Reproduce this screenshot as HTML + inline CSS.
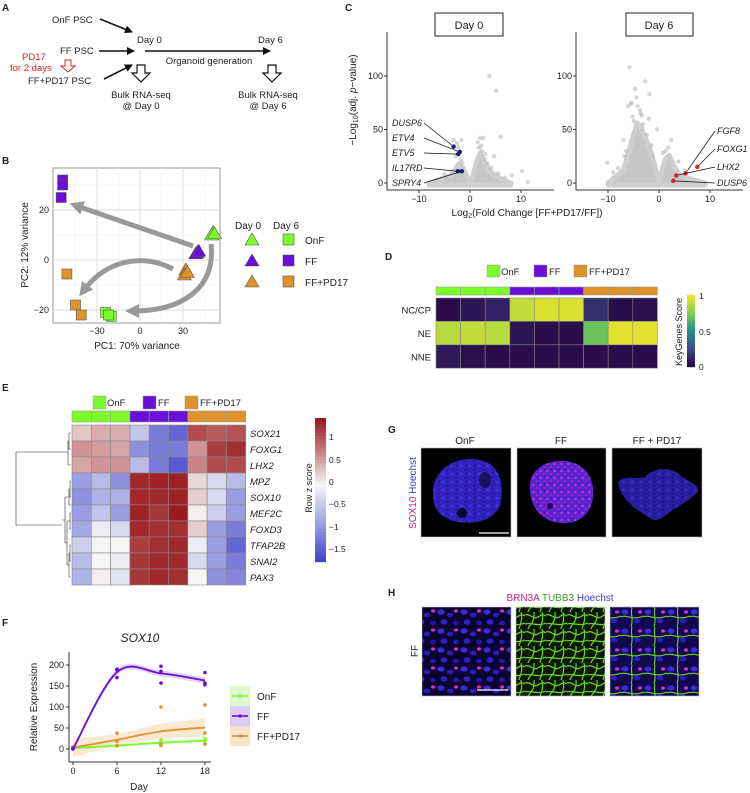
<!DOCTYPE html>
<html><head><meta charset="utf-8">
<style>
html,body{margin:0;padding:0;background:#fff}
svg{display:block;font-family:"Liberation Sans",Arial,sans-serif}
text{fill:#222}
.it{font-style:italic}
</style></head>
<body>
<svg id="fig" width="750" height="793" viewBox="0 0 750 793" xmlns="http://www.w3.org/2000/svg">
<defs>
<marker id="ah" markerWidth="8" markerHeight="8" refX="7" refY="4" orient="auto" markerUnits="userSpaceOnUse"><path d="M0,0 L8,4 L0,8 Z" fill="#111"/></marker>
<marker id="gah" markerWidth="14" markerHeight="14" refX="6" refY="7" orient="auto" markerUnits="userSpaceOnUse"><path d="M0,0 L14,7 L0,14 Z" fill="#999"/></marker>
<pattern id="nuc" width="9" height="8" patternUnits="userSpaceOnUse"><rect width="9" height="8" fill="#3222c0"/><circle cx="2" cy="2" r="1.3" fill="#4636e0"/><circle cx="6.5" cy="5.5" r="1.1" fill="#1e1490"/><circle cx="7" cy="1.5" r="0.7" fill="#160c70"/></pattern>
<pattern id="sox" width="7" height="7" patternUnits="userSpaceOnUse"><rect width="7" height="7" fill="#5a25d0"/><circle cx="1.5" cy="2" r="1.2" fill="#d02ad8"/><circle cx="5" cy="5" r="1" fill="#b020c0"/><circle cx="5.5" cy="1" r="0.6" fill="#2a10a0"/></pattern>
<pattern id="hb" width="23" height="19" patternUnits="userSpaceOnUse"><rect width="23" height="19" fill="#0c0430"/><ellipse cx="4" cy="4" rx="3.5" ry="2.6" fill="#3a2ae0"/><ellipse cx="13" cy="7" rx="3.2" ry="2.4" fill="#2a1cc0"/><ellipse cx="7" cy="14" rx="3.4" ry="2.6" fill="#3020d0"/><ellipse cx="19" cy="15" rx="3" ry="2.2" fill="#2418b0"/><ellipse cx="19" cy="3" rx="2" ry="1.6" fill="#e030c8"/></pattern>
<pattern id="tu" width="21" height="17" patternUnits="userSpaceOnUse"><rect width="21" height="17" fill="#0a1805"/><path d="M0,3 C5,1 8,8 13,5 S18,2 21,4 M3,17 C4,12 10,12 9,0 M0,12 C6,10 12,15 21,11 M15,17 C16,12 19,9 17,0" stroke="#6bd62a" stroke-width="1.2" fill="none"/></pattern>
<pattern id="mg" width="23" height="19" patternUnits="userSpaceOnUse"><rect width="23" height="19" fill="#120850"/><ellipse cx="4" cy="4" rx="3.4" ry="2.5" fill="#3a2ae0"/><ellipse cx="16" cy="13" rx="3.2" ry="2.4" fill="#2a1cc0"/><path d="M0,9 C6,6 10,13 23,8 M11,0 C9,6 13,11 10,19" stroke="#6bd62a" stroke-width="1.1" fill="none"/><ellipse cx="19" cy="4" rx="2" ry="1.6" fill="#e030c8"/></pattern>
</defs>

<!-- Panel A -->
<g font-size="9.5">
<text x="2" y="11" font-weight="bold" font-size="10">A</text>
<text x="52" y="23">OnF PSC</text>
<text x="60" y="54">FF PSC</text>
<text x="28" y="84">FF+PD17 PSC</text>
<text x="22" y="60" style="fill:#e02020">PD17</text>
<text x="10" y="71" style="fill:#e02020">for 2 days</text>
<path d="M65,60 h6 v6 h4 l-7,6 l-7,-6 h4 z" fill="#fff" stroke="#e02020" stroke-width="1"/>
<line x1="100" y1="19" x2="132" y2="32" stroke="#111" stroke-width="1.6" marker-end="url(#ah)"/>
<line x1="99" y1="51" x2="134" y2="51" stroke="#111" stroke-width="1.6" marker-end="url(#ah)"/>
<line x1="104" y1="79" x2="132" y2="65" stroke="#111" stroke-width="1.6" marker-end="url(#ah)"/>
<text x="137" y="43">Day 0</text>
<text x="258" y="43">Day 6</text>
<line x1="145" y1="51" x2="270" y2="51" stroke="#111" stroke-width="1.6" marker-end="url(#ah)"/>
<text x="209" y="64" text-anchor="middle">Organoid generation</text>
<path d="M137,65 h8 v8 h5 l-9,9 l-9,-9 h5 z" fill="#fff" stroke="#111" stroke-width="1.2"/>
<path d="M268,65 h8 v8 h5 l-9,9 l-9,-9 h5 z" fill="#fff" stroke="#111" stroke-width="1.2"/>
<text x="141" y="98" text-anchor="middle">Bulk RNA-seq</text>
<text x="141" y="109" text-anchor="middle">@ Day 0</text>
<text x="268" y="98" text-anchor="middle">Bulk RNA-seq</text>
<text x="268" y="109" text-anchor="middle">@ Day 6</text>
</g>

<!-- Panel B -->
<g id="pb" font-size="9.5">
<text x="2" y="164" font-weight="bold" font-size="10">B</text>
<rect x="53" y="168" width="167" height="155" fill="#fff" stroke="#999"/>
<g id="pbgrid"></g>
<g id="pbarrows">
<path d="M193,246 L77,206" stroke="#999" stroke-width="5" fill="none" marker-end="url(#gah)"/>
<path d="M173,269 C140,252 105,262 84,290" stroke="#999" stroke-width="5" fill="none" marker-end="url(#gah)"/>
<path d="M211,244 C216,290 180,311 133,311" stroke="#999" stroke-width="5" fill="none" marker-end="url(#gah)"/>
</g>
<g id="pbpts"></g>
<g id="pbticks"></g>
<text x="137" y="349" text-anchor="middle" font-size="10">PC1: 70% variance</text>
<text transform="translate(28,245) rotate(-90)" text-anchor="middle" font-size="10">PC2: 12% variance</text>
<g font-size="10">
<text x="235" y="229">Day 0</text>
<text x="273" y="229">Day 6</text>
<polygon points="252,233 259,245 245,245" fill="#7cfc2a" stroke="#555" stroke-width="0.6"/>
<polygon points="252,254 259,266 245,266" fill="#6a0fd6" stroke="#555" stroke-width="0.6"/>
<polygon points="252,275 259,287 245,287" fill="#e0922a" stroke="#555" stroke-width="0.6"/>
<rect x="283" y="234" width="11" height="11" fill="#7cfc2a" stroke="#555" stroke-width="0.6"/>
<rect x="283" y="255" width="11" height="11" fill="#6a0fd6" stroke="#555" stroke-width="0.6"/>
<rect x="283" y="276" width="11" height="11" fill="#e0922a" stroke="#555" stroke-width="0.6"/>
<text x="305" y="244">OnF</text>
<text x="305" y="265">FF</text>
<text x="305" y="286">FF+PD17</text>
</g>
</g>

<!-- Panel C -->
<g id="pc" font-size="9">
<text x="345" y="11" font-weight="bold" font-size="10">C</text>
<rect x="435" y="13" width="68" height="23" fill="#fff" stroke="#222"/>
<text x="469" y="29" text-anchor="middle" font-size="11">Day 0</text>
<rect x="626" y="13" width="67" height="23" fill="#fff" stroke="#222"/>
<text x="659" y="29" text-anchor="middle" font-size="11">Day 6</text>
<g id="pcv"></g>
<text x="527" y="216" text-anchor="middle" font-size="10">Log<tspan font-size="7" dy="2">2</tspan><tspan dy="-2">(Fold Change [FF+PD17/FF])</tspan></text>
<text transform="translate(356,100) rotate(-90)" text-anchor="middle" font-size="10">−Log<tspan font-size="7" dy="2">10</tspan><tspan dy="-2">(adj. </tspan><tspan font-style="italic">p</tspan>−value)</text>
</g>

<!-- Panel D -->
<g id="pd" font-size="9.5">
<text x="385" y="260" font-weight="bold" font-size="10">D</text>
<rect x="487" y="265" width="13" height="12" fill="#7cfc2a" stroke="#999" stroke-width="0.5"/>
<text x="501" y="275">OnF</text>
<rect x="534" y="265" width="13" height="12" fill="#6a0fd6" stroke="#999" stroke-width="0.5"/>
<text x="549" y="275">FF</text>
<rect x="574" y="265" width="13" height="12" fill="#e0922a" stroke="#999" stroke-width="0.5"/>
<text x="589" y="275">FF+PD17</text>
<g id="pdh"></g>
<text transform="translate(682,332) rotate(-90)" text-anchor="middle" font-size="9">KeyGenes Score</text>
<text x="699" y="299" font-size="8.5">1</text>
<text x="699" y="335" font-size="8.5">0.5</text>
<text x="699" y="370" font-size="8.5">0</text>
</g>

<!-- Panel E -->
<g id="pe" font-size="9.5">
<text x="2" y="391" font-weight="bold" font-size="10">E</text>
<rect x="93" y="396" width="13" height="13" fill="#7cfc2a" stroke="#999" stroke-width="0.5"/>
<text x="107" y="406">OnF</text>
<rect x="143" y="396" width="13" height="13" fill="#6a0fd6" stroke="#999" stroke-width="0.5"/>
<text x="158" y="406">FF</text>
<rect x="185" y="396" width="13" height="13" fill="#e0922a" stroke="#999" stroke-width="0.5"/>
<text x="200" y="406">FF+PD17</text>
<g id="peh"></g>
<g stroke="#333" stroke-width="0.6" fill="none">
<path d="M71,433 H69 V449 H71 M69,441 H68 V465 H71 M68,452 H16 V525 H62 M71,481 H70 V497 H71 M70,489 H69 V505 H71 M71,513 H70 V529 H71 M71,545 H70 V561 H71 M70,553 H69 V577 H71 M70,521 H67 V565 H69 M69,497 H65 V543 H67 M65,520 H62"/>
</g>
<text transform="translate(312,488) rotate(-90)" text-anchor="middle" font-size="9">Row z score</text>
<g font-size="8.5">
<text x="329" y="440">1</text>
<text x="329" y="463">0.5</text>
<text x="329" y="485">0</text>
<text x="329" y="507">−0.5</text>
<text x="329" y="530">−1</text>
<text x="329" y="552">−1.5</text>
</g>
</g>

<!-- Panel F -->
<g id="pf" font-size="9.5">
<text x="2" y="626" font-weight="bold" font-size="10">F</text>
<text x="140" y="642" text-anchor="middle" font-size="12" class="it">SOX10</text>
<g id="pfp"></g>
<text x="139" y="790" text-anchor="middle" font-size="10">Day</text>
<text transform="translate(37,707) rotate(-90)" text-anchor="middle" font-size="10">Relative Expression</text>
<g>
<rect x="230" y="686" width="20" height="20" fill="#dff8cf"/>
<line x1="232" y1="696" x2="248" y2="696" stroke="#7cfc2a" stroke-width="1.6"/>
<circle cx="240" cy="696" r="1.6" fill="#7cfc2a"/>
<rect x="230" y="706" width="20" height="20" fill="#dccdf4"/>
<line x1="232" y1="716" x2="248" y2="716" stroke="#6a0fd6" stroke-width="1.6"/>
<circle cx="240" cy="716" r="1.6" fill="#6a0fd6"/>
<rect x="230" y="726" width="20" height="20" fill="#f7e3cc"/>
<line x1="232" y1="736" x2="248" y2="736" stroke="#e0922a" stroke-width="1.6"/>
<circle cx="240" cy="736" r="1.6" fill="#e0922a"/>
<text x="257" y="700" font-size="10">OnF</text>
<text x="257" y="720" font-size="10">FF</text>
<text x="257" y="740" font-size="10">FF+PD17</text>
</g>
</g>

<!-- Panel G -->
<g font-size="10">
<text x="388" y="433" font-weight="bold" font-size="10">G</text>
<text x="465" y="444" text-anchor="middle">OnF</text>
<text x="561" y="444" text-anchor="middle">FF</text>
<text x="657" y="444" text-anchor="middle">FF + PD17</text>
<text transform="translate(416,493) rotate(-90)" text-anchor="middle"><tspan style="fill:#d0207a">SOX10</tspan> <tspan style="fill:#3a3ad0">Hoechst</tspan></text>
<g>
<rect x="421" y="448" width="90" height="89" fill="#000" stroke="#bbb" stroke-width="0.6"/>
<path d="M433,494 C432,470 455,455 480,460 C500,464 505,485 500,505 C494,522 470,526 450,520 C437,515 433,505 433,494 Z" fill="url(#nuc)"/>
<circle cx="462" cy="513" r="5" fill="#0a0530"/><ellipse cx="485" cy="480" rx="6" ry="8" fill="#1a1060"/>
<line x1="479" y1="533" x2="509" y2="533" stroke="#fff" stroke-width="1.3"/>
</g>
<g>
<rect x="517" y="448" width="89" height="89" fill="#000" stroke="#bbb" stroke-width="0.6"/>
<path d="M530,490 C528,470 545,460 565,461 C585,463 595,478 593,497 C591,515 578,524 562,523 C542,522 531,508 530,490 Z" fill="url(#sox)"/>
<circle cx="550" cy="506" r="3" fill="#200850"/>
</g>
<g>
<rect x="612" y="448" width="90" height="89" fill="#000" stroke="#bbb" stroke-width="0.6"/>
<path d="M618,482 C625,474 638,480 645,477 C655,468 668,465 680,475 C690,483 700,485 698,492 C690,500 680,505 670,512 C660,520 655,522 650,518 C640,512 620,500 618,482 Z" fill="url(#nuc)" opacity="0.85"/>
</g>
</g>

<!-- Panel H -->
<g font-size="10">
<text x="388" y="596" font-weight="bold" font-size="10">H</text>
<text x="560" y="601" text-anchor="middle"><tspan style="fill:#d0207a">BRN3A</tspan> <tspan style="fill:#3a9a30">TUBB3</tspan> <tspan style="fill:#3a3ad0">Hoechst</tspan></text>
<text transform="translate(418,651) rotate(-90)" text-anchor="middle">FF</text>
<rect x="422" y="607" width="89" height="89" fill="url(#hb)" stroke="#bbb" stroke-width="0.6"/>
<line x1="477" y1="690" x2="508" y2="690" stroke="#fff" stroke-width="1.3"/>
<rect x="516" y="607" width="89" height="89" fill="url(#tu)" stroke="#bbb" stroke-width="0.6"/>
<rect x="610" y="607" width="89" height="89" fill="url(#mg)" stroke="#bbb" stroke-width="0.6"/>
</g>
</svg>

<script>
// ---------- data ----------
const pcaPC1 = [-54,-54,-55,-51,-45,-41,-24,-20,-22, 51,50,52, 40,39,41, 32,31,33];
const pcaPC2 = [32,30,25,-5.6,-18,-22,-21,-22.5,-22, 11,10,10.5, 3,2.5,3.5, -4,-6,-5];
const pcaGroup = ['FF','FF','FF','FF+PD17','FF+PD17','FF+PD17','OnF','OnF','OnF','OnF','OnF','OnF','FF','FF','FF','FF+PD17','FF+PD17','FF+PD17'];
const pcaDay = [6,6,6,6,6,6,6,6,6,0,0,0,0,0,0,0,0,0];

const d0GeneNames = ['DUSP6','ETV4','ETV5','IL17RD','SPRY4'];
const d0GeneFC = [-3.2,-2.0,-2.3,-2.4,-1.6];
const d0GenePadj = [34,29,27,11,11];
const d6GeneNames = ['FGF8','FOXG1','LHX2','DUSP6'];
const d6GeneFC = [5.2,7.5,3.4,2.8];
const d6GenePadj = [9,15,7,2];
const d0OutFC = [3.8,5.1,-2.5,-2.3,-1.7,2,2.6,6,1.5,-3.2,-2.4,4.7,8.2,10.2,11.3,3,2.4,-1.8,-6.5,-4.5,1.8,2.2,2.9,-2.8,-1.5,3.4,4.2,5.5,-5,6.8];
const d0OutP = [100,86,37,33,40,42,42,43,38,40,28,25,7,11,1,27,30,22,3,4,33,35,22,25,19,18,14,9,8,5];
const d6OutFC = [-5.8,-4.7,-4.4,-5.4,-4.2,-2.7,-1.9,-5.5,-6,-3.7,-3.6,-3.4,-5.2,-10.2,-7,-9,-2,1.3,2.4,-1.2,3.8,-0.4,-4.9,-3.1,-2.4,-6.5,-1.5,0.8,1.8,5,-8,-6.8];
const d6OutP = [108,88,80,74,72,95,83,75,72,68,65,63,62,19,40,10,60,30,40,25,20,50,58,55,45,30,35,28,33,12,14,25];
const d0EnvFC = [-8,-6,-4,-3,-2.2,-1.4,-0.6,0,0.6,1.3,2,2.8,4,6,8];
const d0EnvP = [0,3,6,12,18,14,6,0,7,20,28,20,10,4,0];
const d6EnvFC = [-10,-9,-7,-6,-5,-4.3,-3.5,-2.5,-1.5,-0.6,0,0.5,1.2,2,3,4,6,9];
const d6EnvP = [0,4,12,28,45,56,52,40,28,12,0,10,22,26,15,8,4,0];

const dRows = ['NC/CP','NE','NNE'];
const dVals = [[0.02,0.05,0.1,0.9,0.95,0.95,0.15,0.02,0.03],[0.88,0.9,0.88,0.05,0.02,0.02,0.7,0.97,0.97],[0.07,0.03,0.02,0.02,0.02,0.02,0.02,0.02,0.02]];
const sampleGroups = ['OnF','OnF','OnF','FF','FF','FF','FF+PD17','FF+PD17','FF+PD17'];

const eGenes = ['SOX21','FOXG1','LHX2','MPZ','SOX10','MEF2C','FOXD3','TFAP2B','SNAI2','PAX3'];
const eVals = [
[0.3,0.45,0.45,-0.5,-1.2,-1.4,1.1,1.0,1.05],
[0.6,0.55,0.5,-1.0,-1.2,-1.2,0.6,1.2,1.3],
[0.5,0.6,0.6,-0.6,-1.2,-1.5,0.7,1.1,1.1],
[-0.9,-0.6,-1.0,1.35,1.4,1.4,0.2,-0.3,-0.6],
[-1.0,-0.7,-0.7,1.35,1.35,1.4,0.25,-0.3,-0.9],
[-0.9,-0.5,-0.9,1.4,1.25,1.45,0.05,-0.4,-0.9],
[-0.8,-0.1,-0.3,1.35,1.3,1.3,0.25,-0.9,-1.2],
[-0.4,0,0,1.2,1.3,1.35,-0.1,-0.9,-1.4],
[-0.6,0,-0.1,1.25,1.35,1.35,-0.3,-0.9,-1.2],
[-0.7,0.05,-0.2,1.25,1.35,1.3,0,-1.0,-1.1]];

const fDays = [0,6,12,18];
const fOnFPts = [[2,3],[8,8,7],[22,15,8],[25,20,12]];
const fFFPts = [[0,2],[190,188,170],[197,185,157],[182,157,153]];
const fPDPts = [[5,4],[38,18,8],[100,12,10],[105,38,12]];
const fOnFFit = [2,8,15,20];
const fFFFit = [0,183,180,163];
const fPDFit = [3,22,42,51];
const fOnFSe = [3,3,4,5];
const fFFSe = [6,7,7,8];
const fPDSe = [22,14,18,22];
const fYTicks = [0,50,100,150,200];

// ---------- helpers ----------
const NS='http://www.w3.org/2000/svg';
function mk(tag, attrs, parent){const e=document.createElementNS(NS,tag);for(const k in attrs)e.setAttribute(k,attrs[k]);parent.appendChild(e);return e;}
const grpCol={'OnF':'#7cfc2a','FF':'#6a0fd6','FF+PD17':'#e0922a'};
function lerpHex(a,b,t){const pa=[1,3,5].map(i=>parseInt(a.substr(i,2),16)),pb=[1,3,5].map(i=>parseInt(b.substr(i,2),16));return 'rgb('+pa.map((v,i)=>Math.round(v+(pb[i]-v)*t)).join(',')+')';}
function scaleColor(stops,cols,v){if(v<=stops[0])return cols[0];for(let i=1;i<stops.length;i++){if(v<=stops[i])return lerpHex(cols[i-1],cols[i],(v-stops[i-1])/(stops[i]-stops[i-1]));}return cols[cols.length-1];}
const virS=[0,0.25,0.5,0.75,1], virC=['#2a0845','#3b4a8a','#21918c','#7dcf4f','#f0e52a'];
const divS=[-1.7,-0.85,0,0.7,1.45], divC=['#4444cc','#9ea3e2','#f6f6f6','#c98586','#9a1a1e'];

// ---------- Panel B ----------
const bx=v=>140+1.433*v, by=v=>260-2.5*v;
const gB=document.getElementById('pbgrid');
[-45,-15,15,45].forEach(v=>{const l=mk('line',{x1:bx(v),x2:bx(v),y1:168,y2:323,stroke:'#eee','stroke-width':0.6},gB);

});
[-30,0,30].forEach(v=>{const l=mk('line',{x1:bx(v),x2:bx(v),y1:168,y2:323,stroke:'#ddd','stroke-width':1},gB);

});
[-10,10,30].forEach(v=>{const l=mk('line',{x1:53,x2:220,y1:by(v),y2:by(v),stroke:'#eee','stroke-width':0.6},gB);

});
[-20,0,20].forEach(v=>{const l=mk('line',{x1:53,x2:220,y1:by(v),y2:by(v),stroke:'#ddd','stroke-width':1},gB);

});
const tB=document.getElementById('pbticks');
[-30,0,30].forEach(v=>{const t=mk('text',{x:bx(v),y:334,'text-anchor':'middle','font-size':9},tB);t.textContent=v<0?'−'+(-v):v;

});
[-20,0,20].forEach(v=>{const t=mk('text',{x:49,y:by(v)+3,'text-anchor':'end','font-size':9},tB);t.textContent=v<0?'−'+(-v):v;

});
const pB=document.getElementById('pbpts');
pcaPC1.forEach((v,i)=>{const x=bx(v),y=by(pcaPC2[i]);let e;
if(pcaDay[i]===6){e=mk('rect',{x:x-5,y:y-5,width:10,height:10,fill:grpCol[pcaGroup[i]],stroke:'#555','stroke-width':0.6},pB);}
else{e=mk('polygon',{points:`${x},${y-7} ${x+7},${y+5} ${x-7},${y+5}`,fill:grpCol[pcaGroup[i]],stroke:'#555','stroke-width':0.6},pB);}

});

// ---------- Panel C ----------
const gC=document.getElementById('pcv');
function volcano(ox,envFC,envP,outFC,outP,names,fc,pp,labCol,labX,labY,name){
 const x0=ox, x1=ox+167, yb=190;
 const sx=v=>ox+83+5.1*v, sy=v=>183-1.07*v;
 const g=mk('g',{},gC);
 
 
 let d='M'+sx(envFC[0])+','+sy(0);
 envFC.forEach((v,i)=>{d+=' L'+sx(v)+','+sy(envP[i]);});
 d+=' L'+sx(envFC[envFC.length-1])+','+(sy(0)+2)+' L'+sx(envFC[0])+','+(sy(0)+2)+' Z';
 const cl=mk('path',{d:d,fill:'#c6c6c6',stroke:'#cfcfcf','stroke-width':5,'stroke-linejoin':'round'},g);
 
 
 outFC.forEach((v,i)=>{const c=mk('circle',{cx:sx(v),cy:sy(outP[i]),r:2.2,fill:'#bbb',opacity:0.6},g);
 
 });
 const ax=mk('path',{d:`M${x0},32 V${yb} H${x1}`,fill:'none',stroke:'#333','stroke-width':1},g);
 
 
 [-10,0,10].forEach(v=>{const t=mk('line',{x1:sx(v),x2:sx(v),y1:yb,y2:yb+3,stroke:'#333'},g);
 
 
 const tx=mk('text',{x:sx(v),y:yb+12,'text-anchor':'middle','font-size':9},g);tx.textContent=v<0?'−'+(-v):v;
 
 });
 [0,50,100].forEach(v=>{const t=mk('line',{x1:x0-3,x2:x0,y1:sy(v),y2:sy(v),stroke:'#333'},g);
 
 
 const tx=mk('text',{x:x0-4,y:sy(v)+3,'text-anchor':'end','font-size':9},g);tx.textContent=v;
 
 });
 names.forEach((n,i)=>{const px=sx(fc[i]),py=sy(pp[i]);
 const ln=mk('line',{x1:labX[i]+(name==='volcano-day0'?32:-2),y1:labY[i]-3,x2:px,y2:py,stroke:'#111','stroke-width':0.7},g);
 
 
 const c=mk('circle',{cx:px,cy:py,r:2.2,fill:labCol},g);
 
 
 const t=mk('text',{x:labX[i],y:labY[i],'font-size':9,'font-style':'italic'},g);t.textContent=n;
 
 });
}
volcano(387,d0EnvFC,d0EnvP,d0OutFC,d0OutP,d0GeneNames,d0GeneFC,d0GenePadj,'#1a1a7a',[392,392,392,392,392],[126,141,156,171,186],'volcano-day0');
volcano(576,d6EnvFC,d6EnvP,d6OutFC,d6OutP,d6GeneNames,d6GeneFC,d6GenePadj,'#dd2020',[717,717,717,717],[134,152,170,186],'volcano-day6');

// ---------- Panel D ----------
const gD=document.getElementById('pdh');
const dX0=436,dCW=24.6,dY0=298,dRH=23.4;
sampleGroups.forEach((g,j)=>{const r=mk('rect',{x:dX0+j*dCW,y:287,width:dCW,height:8,fill:grpCol[g],stroke:'#999','stroke-width':0.6},gD);

});
dVals.forEach((row,i)=>{row.forEach((v,j)=>{const r=mk('rect',{x:dX0+j*dCW,y:dY0+i*dRH,width:dCW,height:dRH,fill:scaleColor(virS,virC,v),stroke:'#888','stroke-width':0.6},gD);

});
const t=mk('text',{x:431,y:dY0+i*dRH+dRH/2+4,'text-anchor':'end','font-size':9.5},gD);t.textContent=dRows[i];

});
for(let k=0;k<36;k++){const r=mk('rect',{x:687,y:295+k*2,width:8,height:2.2,fill:scaleColor(virS,virC,1-k/35)},gD);

}

// ---------- Panel E ----------
const gE=document.getElementById('peh');
const eX0=72,eCW=19.3,eY0=425,eRH=16;
sampleGroups.forEach((g,j)=>{const r=mk('rect',{x:eX0+j*eCW,y:411,width:eCW,height:11,fill:grpCol[g],stroke:'#999','stroke-width':0.6},gE);

});
eVals.forEach((row,i)=>{row.forEach((v,j)=>{const r=mk('rect',{x:eX0+j*eCW,y:eY0+i*eRH,width:eCW,height:eRH,fill:scaleColor(divS,divC,v),stroke:'#888','stroke-width':0.6},gE);

});
const t=mk('text',{x:250,y:eY0+i*eRH+12,'font-size':9.5,'font-style':'italic'},gE);t.textContent=eGenes[i];

});
for(let k=0;k<48;k++){const r=mk('rect',{x:315,y:418+k*3,width:11,height:3.2,fill:scaleColor(divS,divC,1.45-3.15*k/47)},gE);

}

// ---------- Panel F ----------
const gF=document.getElementById('pfp');
const fx=d=>73+7.33*d, fy=v=>749-0.42*v;
function smooth(xs,ys){let d='M'+xs[0]+','+ys[0];for(let i=0;i<xs.length-1;i++){const x0=xs[Math.max(i-1,0)],y0=ys[Math.max(i-1,0)],x3=xs[Math.min(i+2,xs.length-1)],y3=ys[Math.min(i+2,xs.length-1)];
const c1x=xs[i]+(xs[i+1]-x0)/6,c1y=ys[i]+(ys[i+1]-y0)/6,c2x=xs[i+1]-(x3-xs[i])/6,c2y=ys[i+1]-(y3-ys[i])/6;d+=` C${c1x},${c1y} ${c2x},${c2y} ${xs[i+1]},${ys[i+1]}`;}return d;}
const series=[[fOnFFit,fOnFSe,fOnFPts,'#7cfc2a','rgba(124,252,42,0.18)','onf'],[fPDFit,fPDSe,fPDPts,'#e0922a','rgba(224,146,42,0.2)','ffpd17'],[fFFFit,fFFSe,fFFPts,'#6a0fd6','rgba(106,15,214,0.18)','ff']];
series.forEach(s=>{const xs=fDays.map(fx);
const up=smooth(xs,s[0].map((v,i)=>fy(v+s[1][i])));
const lo=smooth(xs.slice().reverse(),s[0].map((v,i)=>fy(v-s[1][i])).reverse());
const rb=mk('path',{d:up+' L'+lo.slice(1)+' Z',fill:s[4],stroke:'none'},gF);

});
series.forEach(s=>{const xs=fDays.map(fx);
const ln=mk('path',{d:smooth(xs,s[0].map(fy)),fill:'none',stroke:s[3],'stroke-width':1.8},gF);


s[2].forEach((arr,i)=>arr.forEach(v=>{const c=mk('circle',{cx:fx(fDays[i]),cy:fy(v),r:1.8,fill:s[3]},gF);

}));});
const fax=mk('path',{d:'M69,652 V762 H211',fill:'none',stroke:'#333','stroke-width':1},gF);


fDays.forEach(d=>{const t=mk('text',{x:fx(d),y:774,'text-anchor':'middle','font-size':9},gF);t.textContent=d;


const m=mk('line',{x1:fx(d),x2:fx(d),y1:762,y2:765,stroke:'#333'},gF);

});
fYTicks.forEach(v=>{const t=mk('text',{x:64,y:fy(v)+3,'text-anchor':'end','font-size':9},gF);t.textContent=v;


const m=mk('line',{x1:66,x2:69,y1:fy(v),y2:fy(v),stroke:'#333'},gF);

});
</script>
</body></html>
